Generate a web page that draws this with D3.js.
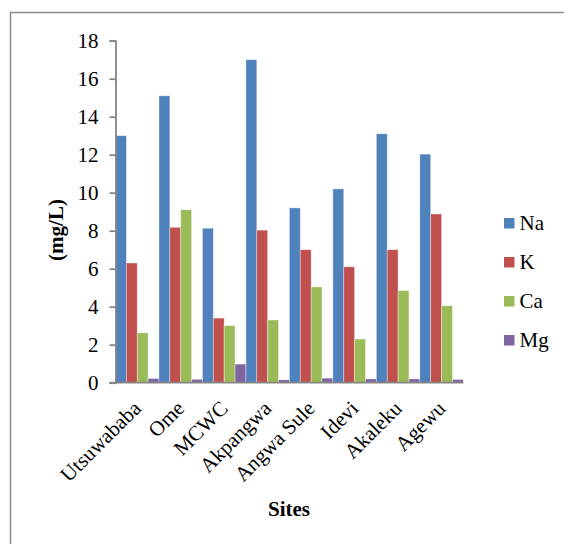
<!DOCTYPE html>
<html>
<head>
<meta charset="utf-8">
<script src="https://cdn.jsdelivr.net/npm/d3@7"></script>
<style>
  html, body { margin: 0; padding: 0; background: #fff; }
  svg { display: block; }
</style>
</head>
<body>
<script>
// Ion concentrations per sampling site (mg/L)
const sites = ["Utsuwababa", "Ome", "MCWC", "Akpangwa", "Angwa Sule", "Idevi", "Akaleku", "Agewu"];
const seriesNames = ["Na", "K", "Ca", "Mg"];
const na = [13.0, 15.1, 8.13, 17.0, 9.2, 10.2, 13.1, 12.03];
const k  = [6.3, 8.18, 3.4, 8.03, 7.0, 6.1, 7.0, 8.88];
const ca = [2.62, 9.1, 3.0, 3.3, 5.04, 2.3, 4.85, 4.05];
const mg = [0.22, 0.18, 0.98, 0.15, 0.24, 0.2, 0.2, 0.17];
const yTicks = [0, 2, 4, 6, 8, 10, 12, 14, 16, 18];
const colors = ["#4F81BD", "#C0504D", "#9BBB59", "#8064A2"];

const FONT = "'Liberation Serif', 'Times New Roman', Times, serif";
const FS = "21px";
const W = 564, H = 544;
const svg = d3.select("body").append("svg").attr("width", W).attr("height", H);

// outer chart frame
svg.append("rect")
  .attr("x", 10.5).attr("y", 12.5)
  .attr("width", 600).attr("height", 600)
  .attr("fill", "none").attr("stroke", "#8c8c8c").attr("stroke-width", 1.5);

const plot = { left: 115.5, right: 463.3, top: 40.7, bottom: 382.7 };

const x = d3.scaleBand().domain(sites).range([plot.left, plot.right]).padding(0);
const xs = d3.scaleBand().domain(seriesNames).range([0, x.bandwidth()]).padding(0);
const y = d3.scaleLinear().domain([0, 18]).range([plot.bottom, plot.top]);

const table = sites.map((s, i) => ({ site: s, values: [na[i], k[i], ca[i], mg[i]] }));

// bars
const groups = svg.append("g").selectAll("g").data(table).join("g")
  .attr("transform", d => `translate(${x(d.site)},0)`);
groups.selectAll("rect").data(d => d.values.map((v, j) => ({ key: seriesNames[j], v, j })))
  .join("rect")
  .attr("x", d => xs(d.key))
  .attr("width", xs.bandwidth())
  .attr("y", d => y(d.v))
  .attr("height", d => y(0) - y(d.v))
  .attr("fill", d => colors[d.j])
  .attr("stroke", "rgba(255,255,255,0.45)")
  .attr("stroke-width", 0.8);

// y axis
const yAxis = svg.append("g")
  .attr("transform", `translate(${plot.left},0)`)
  .call(d3.axisLeft(y).tickValues(yTicks).tickSize(6).tickPadding(11).tickFormat(d3.format("d")));
yAxis.attr("font-family", null).attr("font-size", null);
yAxis.select(".domain").attr("stroke", "#868686").attr("stroke-width", 1.8);
yAxis.selectAll(".tick line").attr("stroke", "#868686").attr("stroke-width", 1.8);
yAxis.selectAll(".tick text")
  .style("font-family", FONT).style("font-size", FS).attr("fill", "#000");

// x axis baseline
svg.append("line")
  .attr("x1", plot.left - 6).attr("x2", plot.right)
  .attr("y1", y(0)).attr("y2", y(0))
  .attr("stroke", "#868686").attr("stroke-width", 1.8);

// category labels
svg.append("g").selectAll("text").data(sites).join("text")
  .attr("transform", d => `translate(${x(d) + x.bandwidth() / 2 + 5},${y(0) + 27}) rotate(-45)`)
  .attr("text-anchor", "end")
  .style("font-family", FONT).style("font-size", FS)
  .text(d => d);

// axis titles
svg.append("text")
  .attr("transform", "translate(63,230) rotate(-90)")
  .attr("text-anchor", "middle")
  .style("font-family", FONT).style("font-size", FS).style("font-weight", "bold")
  .text("(mg/L)");
svg.append("text")
  .attr("x", 289).attr("y", 516)
  .attr("text-anchor", "middle")
  .style("font-family", FONT).style("font-size", FS).style("font-weight", "bold")
  .text("Sites");

// legend
const legend = svg.append("g").selectAll("g").data(seriesNames).join("g")
  .attr("transform", (d, i) => `translate(504,${230 + i * 39})`);
legend.append("rect")
  .attr("x", 0).attr("y", -12).attr("width", 10.5).attr("height", 10.5)
  .attr("fill", (d, i) => colors[i]);
legend.append("text")
  .attr("x", 15.5).attr("y", 0)
  .style("font-family", FONT).style("font-size", FS)
  .text(d => d);
</script>
</body>
</html>
